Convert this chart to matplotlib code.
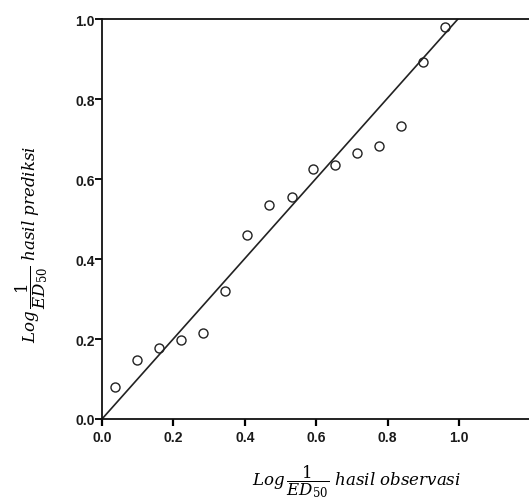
import matplotlib
matplotlib.use('Agg')
import matplotlib.pyplot as plt
import numpy as np

# observed vs predicted log(1/ED50)
observed = [0.036, 0.099, 0.161, 0.222, 0.284, 0.345, 0.407, 0.468, 0.531,
            0.592, 0.653, 0.715, 0.776, 0.837, 0.900, 0.961]
predicted = [0.079, 0.148, 0.178, 0.198, 0.214, 0.320, 0.461, 0.536, 0.554,
             0.625, 0.636, 0.665, 0.683, 0.733, 0.892, 0.979]
fit_slope = 1.003
ticks = [0.0, 0.2, 0.4, 0.6, 0.8, 1.0]

plt.rcParams['mathtext.fontset'] = 'dejavuserif'

fig = plt.figure(figsize=(5.29, 5.02), dpi=100)
ax = fig.add_axes([102 / 529, 82 / 502, 427 / 529, 400 / 502])

xs = np.array([0.0, 1.0 / fit_slope])
ax.plot(xs, fit_slope * xs, color='#222222', linewidth=1.2, zorder=2)
ax.plot(observed, predicted, linestyle='none', marker='o', markersize=6.5,
        markerfacecolor='none', markeredgecolor='#222222', markeredgewidth=1.0,
        zorder=3)

ax.set_xlim(0, 1.196)
ax.set_ylim(0, 1.0)
ax.set_xticks(ticks)
ax.set_yticks(ticks)
ax.set_xticklabels(['%.1f' % t for t in ticks])
ax.set_yticklabels(['%.1f' % t for t in ticks])

for lab in ax.get_xticklabels() + ax.get_yticklabels():
    lab.set_fontfamily('Liberation Sans')
    lab.set_fontweight('bold')
    lab.set_fontsize(10)
    lab.set_color('#1a1a1a')

ax.tick_params(axis='x', direction='out', length=5, width=1.6, pad=3)
ax.tick_params(axis='y', direction='out', length=5, width=1.3, pad=0)

ax.spines['right'].set_visible(False)
for s in ['left', 'bottom', 'top']:
    ax.spines[s].set_linewidth(1.3)
    ax.spines[s].set_color('#111111')

ax.set_xlabel(r'$Log\,\dfrac{1}{ED_{50}}\ hasil\ observasi$', fontsize=12)
ax.xaxis.set_label_coords(0.595, -0.155)
ax.xaxis.label.set_va('center')

ax.set_ylabel(r'$Log\,\dfrac{1}{ED_{50}}\ hasil\ prediksi$', fontsize=12)
ax.yaxis.set_label_coords(-0.166, 0.44)
ax.yaxis.label.set_va('center')

fig.savefig('out.png', dpi=100)
